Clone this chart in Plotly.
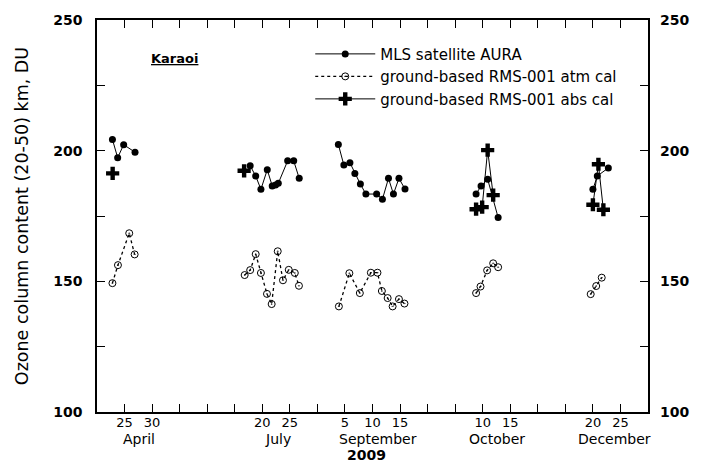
import plotly.graph_objects as go

# x positions are in the chart's compressed day axis (tick every 5 days, gaps between months removed)
mls_x = [-2.2, -1.25, -0.16, 1.9, None,
         22.8, 23.8, 24.75, 25.9, 26.8, 27.4, 27.9, 29.6, 30.7, 31.7, None,
         38.8, 39.8, 40.9, 41.8, 42.8, 43.8, 45.75, 46.8, 47.9, 48.8, 49.8, 50.9, None,
         63.8, 64.7, 65.9, 67.8, None,
         85.0, 85.8, 87.8]
mls_y = [204.3, 197.3, 202.3, 199.4, None,
         194.2, 190.3, 185.2, 192.7, 186.5, 186.9, 187.5, 196.1, 196.1, 189.4, None,
         202.4, 194.5, 195.4, 191.3, 187.2, 183.4, 183.4, 181.4, 189.4, 183.4, 189.4, 185.3, None,
         183.4, 186.5, 189.1, 174.4, None,
         185.2, 190.3, 193.4]

atm_x = [-2.2, -1.2, 0.85, 1.83, None,
         21.8, 22.8, 23.8, 24.75, 25.85, 26.7, 27.8, 28.75, 29.8, 30.9, 31.65, None,
         38.9, 40.8, 42.7, 44.7, 45.9, 46.7, 47.75, 48.65, 49.8, 50.8, None,
         63.8, 64.6, 65.8, 66.9, 67.8, None,
         84.6, 85.6, 86.6]
atm_y = [149.3, 156.2, 168.4, 160.3, None,
         152.4, 154.3, 160.4, 153.2, 145.2, 141.3, 161.5, 150.4, 154.4, 153.2, 148.3, None,
         140.4, 153.1, 145.5, 153.3, 153.3, 146.3, 143.6, 140.4, 143.2, 141.5, None,
         145.5, 148.0, 154.2, 156.9, 155.4, None,
         145.1, 148.2, 151.4]

abs_x = [-2.16, None, 21.7, None, 63.8, 64.9, 65.9, 66.9, None, 85.0, 86.0, 86.9]
abs_y = [191.3, None, 192.3, None, 177.6, 178.4, 200.2, 183.0, None, 179.3, 194.8, 177.4]

tick_vals = list(range(0, 100, 5))
tick_text = ["25", "30", "", "", "", "20", "25", "", "5", "10", "15", "", "", "10", "15",
             "", "", "20", "25", ""]
months = ["April", "July", "September", "October", "December"]
month_pos = [2.7, 27.8, 46.0, 67.6, 89.0]
y_ticks = [100, 150, 200, 250]

FONT = "DejaVu Sans"

fig = go.Figure()
fig.add_trace(go.Scatter(
    x=mls_x, y=mls_y, mode="lines+markers", name="MLS satellite AURA",
    line=dict(color="black", width=1),
    marker=dict(symbol="circle", size=7, color="black"),
    connectgaps=False))
fig.add_trace(go.Scatter(
    x=atm_x, y=atm_y, mode="lines+markers", name="ground-based RMS-001 atm cal",
    line=dict(color="black", width=1.3, dash="dot"),
    marker=dict(symbol="circle-open-dot", size=7, color="black", line=dict(width=1)),
    connectgaps=False))
fig.add_trace(go.Scatter(
    x=abs_x, y=abs_y, mode="lines+markers", name="ground-based RMS-001 abs cal",
    line=dict(color="black", width=1),
    marker=dict(symbol="cross", size=11, color="black"),
    connectgaps=False))
# empty trace so the right-hand axis is drawn
fig.add_trace(go.Scatter(x=[None], y=[None], yaxis="y2", showlegend=False, hoverinfo="skip"))

annotations = []
for m, p in zip(months, month_pos):
    annotations.append(dict(x=p, y=-0.0682, xref="x", yref="paper", text=m, showarrow=False,
                            font=dict(family=FONT, size=14, color="black"), yanchor="middle"))
annotations.append(dict(x=44, y=-0.1086, xref="x", yref="paper", text="<b>2009</b>", showarrow=False,
                        font=dict(family=FONT, size=14, color="black"), yanchor="middle"))
annotations.append(dict(x=9.0, y=0.902, xref="x", yref="paper", text="<b><u>Karaoi</u></b>",
                        showarrow=False, font=dict(family=FONT, size=13, color="black"),
                        yanchor="middle"))

fig.update_layout(
    width=704, height=463,
    margin=dict(l=97, r=56, t=16, b=51),
    paper_bgcolor="white", plot_bgcolor="white",
    font=dict(family=FONT, color="black"),
    showlegend=True,
    legend=dict(x=0.387, y=0.955, xanchor="left", yanchor="top",
                bgcolor="rgba(0,0,0,0)", borderwidth=0, itemwidth=60,
                font=dict(family=FONT, size=15, color="black"), tracegroupgap=0),
    xaxis=dict(range=[-5, 95], tickmode="array", tickvals=tick_vals, ticktext=tick_text,
               ticks="inside", ticklen=8, tickcolor="black", showline=True, linecolor="black",
               linewidth=1.5, mirror="ticks", showgrid=False, zeroline=False,
               ticklabelstandoff=-2,
               tickfont=dict(family=FONT, size=13, color="black")),
    yaxis=dict(range=[100, 250], tickmode="array", tickvals=y_ticks,
               ticks="inside", ticklen=8, tickcolor="black", showline=True, linecolor="black",
               linewidth=1.5, mirror="ticks", showgrid=False, zeroline=False,
               minor=dict(dtick=25, tick0=100, ticks="inside", ticklen=8, tickcolor="black"),
               tickfont=dict(family=FONT, size=14, color="black", weight="bold"),
               ticklabelstandoff=10,
               title=dict(text="Ozone column content (20-50) km, DU",
                          font=dict(family=FONT, size=17.5, color="black"), standoff=20)),
    yaxis2=dict(range=[100, 250], overlaying="y", side="right", tickmode="array",
                tickvals=y_ticks, ticks="", showline=False, showgrid=False, zeroline=False,
                ticklabelstandoff=11,
                tickfont=dict(family=FONT, size=14, color="black", weight="bold")),
    annotations=annotations,
)

fig.write_html("out.html", config={"displayModeBar": False},
               post_script="document.body.style.margin='0';")
